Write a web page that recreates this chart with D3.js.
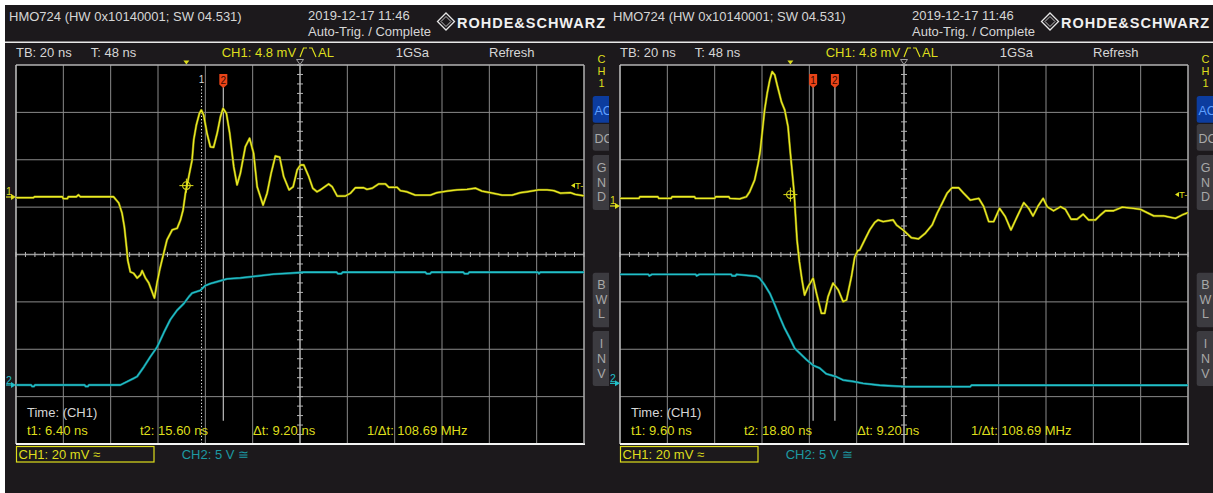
<!DOCTYPE html>
<html>
<head>
<meta charset="utf-8">
<script src="https://cdn.jsdelivr.net/npm/d3@7"></script>
<style>
body { margin: 0; background: #fff; }
text { font-family: "Liberation Sans", Arial, sans-serif; }
</style>
</head>
<body>
<svg id="scope" width="1213" height="493"></svg>
<script>
// time in ns (trigger = 0), CH1 in mV, CH2 in V
const leftCh1 = [
    [-72,-0.3],[-64.6,-0.3],[-64.2,0.1],[-52.4,0.1],[-52,-0.7],[-50.3,-0.7],[-49.9,0.1],[-46.5,0.1],[-45.6,0.9],[-44.8,0.1],[-30.8,0.1],
    [-28.6,-2.5],[-27.2,-6.8],[-26.2,-12.7],[-25.3,-21.1],[-24.8,-26.6],[-23.7,-31.6],[-22.3,-32.2],[-20.8,-34.2],[-19.4,-32.9],
    [-18.7,-31.1],[-17.3,-34.2],[-15.9,-36.3],[-14.5,-40.0],[-13.5,-42.7],[-12.4,-36.3],[-11.3,-30.8],[-10.3,-26.6],[-9.6,-23.8],
    [-8.2,-18.1],[-6.0,-13.9],[-3.9,-13.2],[-2.5,-9.7],[-1.4,-5.5],[-0.4,1.6],[1.0,8.6],[2.4,15.6],[3.1,24.1],[4.2,30.4],[5.5,35.3],
    [6.3,36.7],[7.3,34.6],[8.7,26.9],[10.1,21.2],[11.5,21.0],[13.0,26.9],[14.4,33.9],[15.5,37.4],[16.9,35.3],[18.3,26.9],[20.0,12.8],
    [21.4,5.1],[22.8,10.0],[24.9,21.2],[26.7,24.8],[28.4,18.4],[29.9,4.3],[32.4,-3.4],[34.1,1.6],[35.8,10.0],[37.6,17.3],[39.4,16.8],
    [41.1,8.6],[43.4,3.0],[45.1,4.3],[46.8,11.4],[48.2,13.5],[49.6,13.5],[51.7,8.6],[53.4,3.7],[55.2,2.2],[56.6,3.0],[60.1,5.5],
    [61.6,4.3],[63.7,0.4],[67.2,0.4],[69.3,1.6],[71.4,3.9],[74.9,3.9],[76.3,3.2],[78.5,3.7],[81.2,5.5],[84.1,5.5],[85.5,4.1],
    [89.0,4.1],[90.4,2.7],[93.2,2.2],[96.7,0.8],[103.1,0.8],[105.9,1.8],[110.1,2.5],[114.4,3.0],[118.6,3.2],[122.1,3.7],[124.9,2.5],
    [128.4,1.8],[133.4,0.8],[137.6,0.8],[141.1,1.8],[143.9,2.2],[148.8,3.0],[152.4,3.0],[155.2,2.7],[158.0,1.6],[162.2,1.8],
    [164.3,1.1],[168,0.5]
];
const leftCh2 = [
    [-72,0],[-65.6,0],[-65.2,-0.15],[-64.4,-0.15],[-64,0],[-43,0],[-42.6,-0.15],[-41.6,-0.15],[-41.2,0],[-27.9,0],
    [-25.1,0.35],[-22.3,0.7],[-20.8,0.9],[-18.0,1.9],[-15.2,3.0],[-12.4,4.0],[-9.6,5.5],[-6.8,6.9],[-3.9,7.9],[-1.1,8.6],
    [1.0,9.3],[2.4,9.7],[5.9,10.0],[8.0,10.5],[10.1,10.7],[13.0,10.9],[17.2,11.2],[22.8,11.3],[29.9,11.5],[36.9,11.7],
    [43.9,11.8],[49.6,11.9],[63.5,11.9],[64,11.75],[65.5,11.75],[66,11.9],[101,11.9],[101.5,11.75],[103,11.75],[103.5,11.9],
    [117,11.9],[117.5,11.75],[119,11.75],[119.5,11.9],[148.5,11.9],[149,11.75],[149.5,11.9],[168,11.9]
];
const rightCh1 = [
    [-72,3.2],[-64,3.2],[-63.6,3.9],[-56,3.9],[-55.6,3.2],[-50.4,3.2],[-50,3.9],[-40.5,3.9],[-40.1,3.2],[-32,3.2],[-31.6,3.9],
    [-26,3.9],[-25.6,3.2],[-21.4,3.0],[-18.6,3.9],[-17.2,6.0],[-15.1,11.0],[-13.6,18.0],[-12.7,23.6],[-11.8,32.1],[-10.9,40.5],
    [-9.8,47.6],[-8.7,53.2],[-7.7,56.7],[-6.6,55.3],[-5.6,51.1],[-4.5,46.8],[-3.8,44.0],[-2.4,40.5],[-1.0,33.5],[0,22.2],
    [0.8,13.8],[1.6,5.4],[2.1,-3.1],[2.8,-14.3],[3.8,-23.6],[4.9,-31.2],[6.0,-37.6],[7.5,-34.0],[9.6,-30.5],[11.0,-36.8],
    [13.1,-45.3],[14.5,-45.3],[15.9,-38.3],[18.0,-32.6],[20.2,-35.4],[22.3,-40.4],[23.7,-39.7],[25.8,-29.8],[27.2,-21.5],
    [28.5,-18.8],[29.3,-18.6],[31.4,-14.3],[33.5,-10.1],[35.6,-7.0],[37.0,-5.9],[39.2,-6.6],[43.4,-5.9],[44.8,-8.0],[47.6,-10.1],
    [51.1,-13.4],[54.1,-13.9],[57.0,-11.5],[59.9,-8.0],[62.0,-3.1],[64.1,1.1],[66.2,5.4],[68.3,7.7],[71.1,7.7],[73.2,5.4],
    [76.0,2.5],[79.6,3.2],[81.7,-0.3],[83.8,-6.6],[85.9,-6.6],[88.4,-1.0],[90.8,-4.5],[93.2,-10.1],[95.8,-4.5],[98.6,1.4],
    [100.7,-1.0],[102.5,-4.2],[104.5,-0.3],[106.8,3.2],[108.5,-0.3],[111.2,-2.0],[114.1,-0.3],[116.2,-1.4],[118.6,-5.6],
    [121.1,-5.6],[123.7,-3.5],[126.0,-5.9],[128.9,-5.9],[131.0,-3.8],[133.1,-2.0],[136.6,-2.0],[140.2,-0.5],[145.0,-1.0],
    [147.9,-1.4],[150.7,-2.8],[153.5,-4.2],[157.7,-4.2],[162.7,-5.2],[165.5,-3.8],[168,-2.8]
];
const rightCh2 = [
    [-72,11.5],[-60,11.5],[-59.6,11.35],[-58.5,11.5],[-40,11.5],[-39.6,11.35],[-38.5,11.5],[-25,11.5],[-24.6,11.35],
    [-23.2,11.35],[-22.8,11.5],[-14.4,11.3],[-13.0,11.1],[-10.9,10.4],[-8.7,9.5],[-6.6,8.3],[-4.5,7.0],[-2.4,5.8],[-0.3,4.8],
    [1.8,3.7],[3.9,3.2],[6.8,2.5],[9.6,1.9],[12.4,1.6],[15.2,1.0],[19.4,0.7],[22.3,0.35],[26.5,0.2],[30.7,0],[37.7,-0.2],
    [44.8,-0.3],[49.0,-0.35],[76.0,-0.35],[76.5,-0.2],[168,-0.2]
];

const headerTexts = ["HMO724 (HW 0x10140001; SW 04.531)", "2019-12-17 11:46", "Auto-Trig. / Complete", "ROHDE&SCHWARZ"];
const statusTexts = ["TB: 20 ns", "T: 48 ns", "CH1: 4.8 mV", "AL", "1GSa", "Refresh"];
const leftCursors = [6.40, 15.60];
const rightCursors = [9.60, 18.80];
const leftReadout = ["t1: 6.40 ns", "t2: 15.60 ns", "Δt: 9.20 ns", "1/Δt: 108.69 MHz"];
const rightReadout = ["t1: 9.60 ns", "t2: 18.80 ns", "Δt: 9.20 ns", "1/Δt: 108.69 MHz"];
const trigLevel = 4.8; // mV

const YEL = "#dede1c", CYAN = "#22bfc8", GRID = "#8a8a8a", TXT = "#d6d6d6";

const svg = d3.select("#scope");
svg.append("rect").attr("width", 1213).attr("height", 493).attr("fill", "#fff");

const x = d3.scaleLinear().domain([-72, 168]).range([16, 584]);
const yDiv = d3.scaleLinear().domain([-4, 4]).range([444, 65]);

const scopes = [
    {dx: 0, ch1: leftCh1, ch2: leftCh2, ch1Pos: 1.214, ch2Pos: -2.755, cursors: leftCursors, readout: leftReadout, firstPlain: true},
    {dx: 604, ch1: rightCh1, ch2: rightCh2, ch1Pos: 1.024, ch2Pos: -2.72, cursors: rightCursors, readout: rightReadout, firstPlain: false}
];

const defs = svg.append("defs");

function drawScope(cfg, i) {
    defs.append("clipPath").attr("id", "panel" + i)
        .append("rect").attr("x", 5).attr("y", 5).attr("width", 604).attr("height", 488);
    defs.append("clipPath").attr("id", "grat" + i)
        .append("rect").attr("x", 16).attr("y", 65).attr("width", 568).attr("height", 379);

    const g = svg.append("g")
        .attr("transform", `translate(${cfg.dx},0)`)
        .append("g").attr("clip-path", `url(#panel${i})`);

    g.append("rect").attr("x", 5).attr("y", 5).attr("width", 604).attr("height", 488).attr("fill", "#1c191c");

    // header
    g.append("text").attr("x", 9).attr("y", 20.5).attr("font-size", 13).attr("fill", TXT).text(headerTexts[0]);
    g.append("text").attr("x", 308).attr("y", 20).attr("font-size", 13).attr("fill", TXT).text(headerTexts[1]);
    g.append("text").attr("x", 308).attr("y", 35.5).attr("font-size", 13).attr("fill", TXT).text(headerTexts[2]);
    g.append("path").attr("d", "M446,13 L454.5,21.5 L446,30 L437.5,21.5Z")
        .attr("fill", "#1c191c").attr("stroke", "#e6e6e6").attr("stroke-width", 1.3);
    g.append("path").attr("d", "M446,16.5 L451,21.5 L446,26.5 L441,21.5Z")
        .attr("fill", "none").attr("stroke", "#e6e6e6").attr("stroke-width", 0.8);
    g.append("text").attr("x", 457).attr("y", 28.3).attr("font-size", 14.5).attr("font-weight", "bold")
        .attr("fill", "#f0f0f0").attr("textLength", 148).attr("lengthAdjust", "spacing").text(headerTexts[3]);
    g.append("line").attr("x1", 5).attr("x2", 609).attr("y1", 42.3).attr("y2", 42.3)
        .attr("stroke", "#e8e8e8").attr("stroke-width", 1.5);

    // status row
    g.append("text").attr("x", 16).attr("y", 57.3).attr("font-size", 13).attr("fill", TXT).text(statusTexts[0]);
    g.append("text").attr("x", 90.7).attr("y", 57.3).attr("font-size", 13).attr("fill", TXT).text(statusTexts[1]);
    g.append("text").attr("x", 221.7).attr("y", 57.3).attr("font-size", 13).attr("fill", YEL).text(statusTexts[2]);
    g.append("path").attr("d", "M300,57 L303.5,48 L307,48 M309,48 L312,48 L316,57")
        .attr("fill", "none").attr("stroke", YEL).attr("stroke-width", 1.2);
    g.append("text").attr("x", 318).attr("y", 57.3).attr("font-size", 13).attr("fill", YEL).text(statusTexts[3]);
    g.append("text").attr("x", 395.7).attr("y", 57.3).attr("font-size", 13).attr("fill", TXT).text(statusTexts[4]);
    g.append("text").attr("x", 489).attr("y", 57.3).attr("font-size", 13).attr("fill", TXT).text(statusTexts[5]);

    // side buttons
    ["C", "H", "1"].forEach((c, k) => g.append("text").attr("x", 601.5).attr("y", [63.3, 75.3, 87.3][k])
        .attr("text-anchor", "middle").attr("font-size", 11).attr("fill", YEL).text(c));
    const buttons = [
        {y: 96, h: 26.7, fill: "#0c3c9e", col: "#5f9fff", lines: ["AC"], ys: [115]},
        {y: 124, h: 26.7, fill: "#3c3b40", col: "#a8a8a8", lines: ["DC"], ys: [143.3]},
        {y: 155, h: 55, fill: "#3c3b40", col: "#a8a8a8", lines: ["G", "N", "D"], ys: [171.7, 187.3, 200.7]},
        {y: 272.7, h: 54.5, fill: "#3c3b40", col: "#a8a8a8", lines: ["B", "W", "L"], ys: [289, 304, 318.3]},
        {y: 331, h: 55, fill: "#3c3b40", col: "#a8a8a8", lines: ["I", "N", "V"], ys: [348.3, 363.3, 377.7]}
    ];
    buttons.forEach(b => {
        g.append("rect").attr("x", 592.7).attr("y", b.y).attr("width", 22).attr("height", b.h)
            .attr("rx", 2.5).attr("fill", b.fill);
        b.lines.forEach((c, k) => g.append("text")
            .attr("x", b.lines.length === 1 ? 594.5 : 601.5).attr("y", b.ys[k])
            .attr("text-anchor", b.lines.length === 1 ? "start" : "middle")
            .attr("font-size", 12.5).attr("fill", b.col).text(c));
    });

    // graticule
    g.append("rect").attr("x", 16).attr("y", 65).attr("width", 568).attr("height", 379).attr("fill", "#000");
    const grid = g.append("g").attr("stroke", GRID).attr("stroke-width", 1);
    grid.selectAll(".vl").data(d3.range(-72, 169, 20)).enter().append("line")
        .attr("x1", d => x(d)).attr("x2", d => x(d)).attr("y1", 65).attr("y2", 444);
    grid.selectAll(".hl").data(d3.range(-4, 5, 1)).enter().append("line")
        .attr("x1", 16).attr("x2", 584).attr("y1", d => yDiv(d)).attr("y2", d => yDiv(d));
    g.append("line").attr("x1", 300).attr("x2", 300).attr("y1", 65).attr("y2", 444)
        .attr("stroke", "#9a9a9a").attr("stroke-width", 1.6);
    g.append("line").attr("x1", 16).attr("x2", 584).attr("y1", yDiv(0)).attr("y2", yDiv(0))
        .attr("stroke", "#9a9a9a").attr("stroke-width", 1.4);
    const ticks = g.append("g").attr("stroke", "#b4b4b4").attr("stroke-width", 1);
    ticks.selectAll(".tx").data(d3.range(-72, 168.1, 4)).enter().append("line")
        .attr("x1", d => x(d)).attr("x2", d => x(d)).attr("y1", yDiv(0) - 2.5).attr("y2", yDiv(0) + 2.5);
    ticks.selectAll(".ty").data(d3.range(-4, 4.01, 0.2)).enter().append("line")
        .attr("x1", 297).attr("x2", 303).attr("y1", d => yDiv(d)).attr("y2", d => yDiv(d));
    g.append("path").attr("d", "M16,65 H584").attr("stroke", "#c8c8c8").attr("stroke-width", 1.2);
    g.append("path").attr("d", "M16,65 V444").attr("stroke", "#c8c8c8").attr("stroke-width", 1.2);
    g.append("path").attr("d", "M16,444 H585").attr("stroke", "#f4f4f4").attr("stroke-width", 1.8);
    g.append("path").attr("d", "M584,65 V444").attr("stroke", "#b0b0b0").attr("stroke-width", 1.2);

    // top markers
    g.append("path").attr("d", `M${x(0) - 3},60.5 H${x(0) + 3} L${x(0)},64.5Z`).attr("fill", YEL);
    g.append("path").attr("d", "M296.5,59.5 H303.5 L300,64.5Z").attr("fill", "none").attr("stroke", "#a0a0a0");

    // cursors
    cfg.cursors.forEach((t, k) => {
        const cx = x(t);
        if (k === 0 && cfg.firstPlain) {
            g.append("line").attr("x1", cx).attr("x2", cx).attr("y1", 86).attr("y2", 444)
                .attr("stroke", "#e6e6e6").attr("stroke-dasharray", "1.3,2");
            g.append("text").attr("x", cx).attr("y", 83).attr("text-anchor", "middle")
                .attr("font-size", 10).attr("fill", "#d8d8d8").text(k + 1);
        } else {
            g.append("line").attr("x1", cx).attr("x2", cx).attr("y1", 86).attr("y2", 420.7)
                .attr("stroke", "#bcbcbc").attr("stroke-width", 1.2);
            g.append("path").attr("d", `M${cx - 4},74 H${cx + 4} V84.5 L${cx},88 L${cx - 4},84.5Z`).attr("fill", "#ea4418");
            g.append("text").attr("x", cx).attr("y", 83.5).attr("text-anchor", "middle")
                .attr("font-size", 10).attr("fill", "#3a0800").text(k + 1);
        }
    });

    // traces
    const y1 = v => yDiv(cfg.ch1Pos + v / 20);
    const y2 = v => yDiv(cfg.ch2Pos + v / 5);
    const traces = g.append("g").attr("clip-path", `url(#grat${i})`).attr("fill", "none")
        .attr("stroke-linejoin", "round");
    const line1 = d3.line().x(d => x(d[0])).y(d => y1(d[1]));
    const line2 = d3.line().x(d => x(d[0])).y(d => y2(d[1]));
    traces.append("path").attr("d", line2(cfg.ch2)).attr("stroke", "#0e6a70").attr("stroke-width", 2.4);
    traces.append("path").attr("d", line2(cfg.ch2)).attr("stroke", CYAN).attr("stroke-width", 1.3);
    traces.append("path").attr("d", line1(cfg.ch1)).attr("stroke", "#77770a").attr("stroke-width", 2.4);
    traces.append("path").attr("d", line1(cfg.ch1)).attr("stroke", "#ecec24").attr("stroke-width", 1.3);

    // trigger point and level marker
    const ty = y1(trigLevel);
    g.append("circle").attr("cx", x(0)).attr("cy", ty).attr("r", 3.8)
        .attr("fill", "none").attr("stroke", YEL).attr("stroke-width", 1.1);
    g.append("path").attr("d", `M${x(0) - 7},${ty} H${x(0) + 7} M${x(0)},${ty - 7} V${ty + 7}`)
        .attr("stroke", YEL).attr("stroke-width", 1);
    g.append("path").attr("d", `M571,${ty} L575,${ty - 2.5} V${ty + 2.5}Z`).attr("fill", YEL);
    g.append("text").attr("x", 575).attr("y", ty + 3.5).attr("font-size", 9.5).attr("fill", YEL).text("T-");

    // channel reference markers
    [[cfg.ch1Pos, YEL, "1"], [cfg.ch2Pos, CYAN, "2"]].forEach(([p, col, lab]) => {
        const yy = yDiv(p);
        g.append("text").attr("x", 6).attr("y", yy - 1.5).attr("font-size", 10.5).attr("fill", col).text(lab);
        g.append("path").attr("d", `M6,${yy} H12`).attr("stroke", col).attr("stroke-width", 1.2);
        g.append("path").attr("d", `M11,${yy - 3} L16,${yy} L11,${yy + 3}Z`).attr("fill", col);
    });

    // readout
    g.append("text").attr("x", 27).attr("y", 417).attr("font-size", 13).attr("fill", TXT).text("Time: (CH1)");
    [27, 140, 253, 367].forEach((px, k) => g.append("text").attr("x", px).attr("y", 435)
        .attr("font-size", 13).attr("fill", YEL).text(cfg.readout[k]));

    // channel boxes
    g.append("rect").attr("x", 16.5).attr("y", 446.5).attr("width", 137.5).attr("height", 15.5)
        .attr("fill", "none").attr("stroke", YEL).attr("stroke-width", 1.2);
    g.append("text").attr("x", 18.5).attr("y", 458.5).attr("font-size", 13).attr("fill", YEL).text("CH1: 20 mV ≈");
    g.append("text").attr("x", 181.7).attr("y", 458.5).attr("font-size", 13).attr("fill", "#1c9aa2").text("CH2: 5 V ≅");
}

scopes.forEach(drawScope);
</script>
</body>
</html>
